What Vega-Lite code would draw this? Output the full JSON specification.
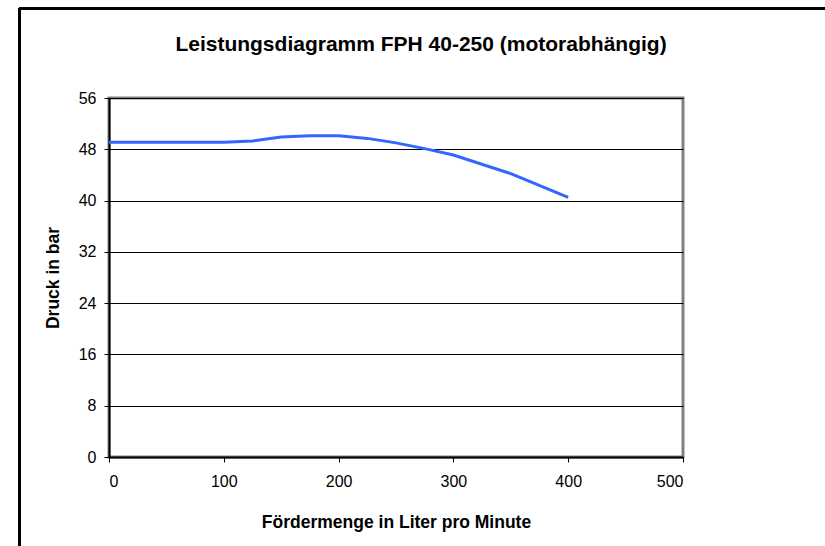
{
  "$schema": "https://vega.github.io/schema/vega-lite/v6.json",
  "autosize": "none",
  "width": 574,
  "height": 359,
  "padding": {"left": 109, "top": 98, "right": 142, "bottom": 89},
  "background": "white",
  "config": {
    "font": "Liberation Sans",
    "view": {"stroke": "#808080", "strokeWidth": 3}
  },
  "title": {
    "text": "Leistungsdiagramm FPH 40-250 (motorabhängig)",
    "font": "Liberation Sans",
    "fontSize": 21,
    "fontWeight": "bold",
    "color": "black",
    "anchor": "middle",
    "baseline": "alphabetic",
    "dx": 25,
    "offset": -65
  },
  "data": {
    "values": [
      {"q": 0, "p": 49.1},
      {"q": 100, "p": 49.1},
      {"q": 125, "p": 49.3},
      {"q": 150, "p": 49.9},
      {"q": 175, "p": 50.1},
      {"q": 200, "p": 50.1},
      {"q": 225, "p": 49.7},
      {"q": 250, "p": 49.0},
      {"q": 275, "p": 48.1},
      {"q": 300, "p": 47.1},
      {"q": 350, "p": 44.2},
      {"q": 400, "p": 40.5}
    ]
  },
  "layer": [
    {
      "mark": {"type": "line", "color": "#3366FF", "strokeWidth": 3, "clip": false},
      "encoding": {
        "x": {
          "field": "q", "type": "quantitative",
          "scale": {"domain": [0, 500], "nice": false, "zero": false},
          "axis": {
            "values": [0, 100, 200, 300, 400, 500],
            "title": "Fördermenge in Liter pro Minute",
            "titleFont": "Liberation Sans", "titleFontSize": 17.5, "titleFontWeight": "bold", "titleColor": "black",
            "titlePadding": 24,
            "labelFont": "Liberation Sans", "labelFontSize": 16, "labelColor": "black", "labelPadding": 11,
            "domainColor": "black", "domainWidth": 2,
            "tickColor": "black", "tickSize": 5, "tickWidth": 1,
            "grid": false
          }
        },
        "y": {
          "field": "p", "type": "quantitative",
          "scale": {"domain": [0, 56], "nice": false, "zero": false},
          "axis": {
            "values": [0, 8, 16, 24, 32, 40, 48, 56],
            "title": "Druck in bar",
            "titleFont": "Liberation Sans", "titleFontSize": 17.5, "titleFontWeight": "bold", "titleColor": "black",
            "titlePadding": 16,
            "labelFont": "Liberation Sans", "labelFontSize": 16, "labelColor": "black", "labelPadding": 8,
            "domainColor": "black", "domainWidth": 2,
            "tickColor": "black", "tickSize": 5, "tickWidth": 1,
            "grid": true, "gridColor": "black", "gridWidth": 1, "gridOpacity": 1
          }
        }
      }
    },
    {
      "mark": {"type": "rule", "color": "black", "strokeWidth": 2, "clip": false},
      "encoding": {
        "x": {"datum": -78},
        "y": {"datum": -20},
        "y2": {"datum": 70}
      }
    },
    {
      "mark": {"type": "rule", "color": "black", "strokeWidth": 2, "clip": false},
      "encoding": {
        "y": {"datum": 70},
        "x": {"datum": -78},
        "x2": {"datum": 650}
      }
    }
  ]
}
